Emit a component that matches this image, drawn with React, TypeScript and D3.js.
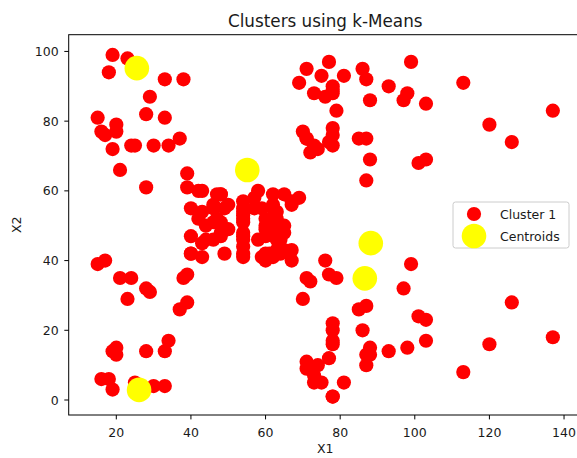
import React from "react";
import * as d3 from "d3";

const X1 = [15,15,16,16,17,17,18,18,19,19,19,19,20,20,20,20,21,21,23,23,24,24,25,25,28,28,28,28,29,29,30,30,33,33,33,33,34,34,37,37,38,38,39,39,39,39,40,40,40,40,42,42,43,43,43,43,44,44,46,46,46,46,47,47,48,48,48,48,48,48,49,49,50,50,54,54,54,54,54,54,54,54,54,54,54,54,57,57,58,58,59,59,60,60,60,60,60,60,61,61,62,62,62,62,62,62,63,63,63,63,63,63,64,64,65,65,65,65,67,67,67,67,69,69,70,70,71,71,71,71,71,71,72,72,73,73,73,73,74,74,75,75,76,76,77,77,77,77,78,78,78,78,78,78,78,78,78,78,78,78,79,79,81,81,85,85,86,86,87,87,87,87,87,87,88,88,88,88,93,93,97,97,98,98,99,99,101,101,103,103,103,103,113,113,120,120,126,126,137,137];
const X2 = [39,81,6,77,40,76,6,94,3,72,14,99,15,77,13,79,35,66,29,98,35,73,5,73,14,82,32,61,31,87,4,73,4,92,14,81,17,73,26,75,35,92,36,61,28,65,55,47,42,42,52,60,54,60,45,41,50,46,51,46,56,55,52,59,51,59,50,48,59,47,55,42,49,56,47,54,53,48,52,42,51,55,41,44,57,46,58,55,60,46,55,41,49,40,42,52,47,50,42,49,41,48,59,55,56,42,50,46,43,48,52,54,42,46,48,50,43,59,43,57,56,40,58,91,29,77,35,95,11,75,9,75,34,71,5,88,7,73,10,72,5,93,40,87,12,97,36,74,22,90,17,88,20,76,16,89,1,78,1,73,35,83,5,93,26,75,20,95,27,63,13,75,10,92,13,86,15,69,14,90,32,86,15,88,39,97,24,68,17,85,23,69,8,91,16,79,28,74,18,83];
const centroidX = [25.5, 55.1, 88.2, 86.6, 26.1];
const centroidY = [95.2, 66.0, 45.0, 34.9, 2.9];
const xTicks = [20, 40, 60, 80, 100, 120, 140];
const yTicks = [0, 20, 40, 60, 80, 100];

const FONT = "DejaVu Sans, sans-serif";

export default function App() {
  const W = 577, H = 458;
  const left = 68.7, right = 581.8, top = 34.7, bottom = 415;
  const x = d3.scaleLinear().domain([7.24, 144.76]).range([left, right]);
  const y = d3.scaleLinear().domain([-4.3, 104.8]).range([bottom, top]);
  const pts = X1.map((v, i) => [v, X2[i]]);
  const cents = centroidX.map((v, i) => [v, centroidY[i]]);
  return (
    <svg width={W} height={H} style={{ position: "absolute", left: 0, top: 0, background: "#fff" }} fontFamily={FONT}>
      <defs>
        <clipPath id="plot">
          <rect x={left} y={top} width={right - left} height={bottom - top} />
        </clipPath>
      </defs>
      <rect x={0} y={0} width={W} height={H} fill="#fff" />
      <g clipPath="url(#plot)">
        {pts.map((p, i) => (
          <circle key={"p" + i} cx={x(p[0])} cy={y(p[1])} r={7.1} fill="#ff0000" />
        ))}
        {cents.map((p, i) => (
          <circle key={"c" + i} cx={x(p[0])} cy={y(p[1])} r={12.3} fill="#ffff00" />
        ))}
      </g>
      <rect x={left} y={top} width={right - left} height={bottom - top} fill="none" stroke="#000" strokeWidth={1} />
      {xTicks.map((t) => (
        <g key={"xt" + t}>
          <line x1={x(t)} x2={x(t)} y1={bottom} y2={bottom + 4.4} stroke="#000" strokeWidth={1} />
          <text x={x(t)} y={bottom + 22} textAnchor="middle" fontSize={12.5} fill="#1a1a1a">{t}</text>
        </g>
      ))}
      {yTicks.map((t) => (
        <g key={"yt" + t}>
          <line x1={left - 4.4} x2={left} y1={y(t)} y2={y(t)} stroke="#000" strokeWidth={1} />
          <text x={left - 10} y={y(t) + 4.5} textAnchor="end" fontSize={12.5} fill="#1a1a1a">{t}</text>
        </g>
      ))}
      <text x={(left + right) / 2} y={26.5} textAnchor="middle" fontSize={16.8} fill="#1a1a1a">Clusters using k-Means</text>
      <text x={(left + right) / 2} y={453} textAnchor="middle" fontSize={12.5} fill="#1a1a1a">X1</text>
      <text transform={`translate(21,${(top + bottom) / 2}) rotate(-90)`} textAnchor="middle" fontSize={12.5} fill="#1a1a1a">X2</text>
      <g>
        <rect x={453} y={202} width={116} height={46} rx={2.5} fill="#fff" fillOpacity={0.8} stroke="#cccccc" strokeWidth={1} />
        <circle cx={474} cy={214} r={7.1} fill="#ff0000" />
        <circle cx={474} cy={236} r={12.3} fill="#ffff00" />
        <text x={500} y={218.5} fontSize={12.5} fill="#1a1a1a">Cluster 1</text>
        <text x={500} y={240.5} fontSize={12.5} fill="#1a1a1a">Centroids</text>
      </g>
    </svg>
  );
}
